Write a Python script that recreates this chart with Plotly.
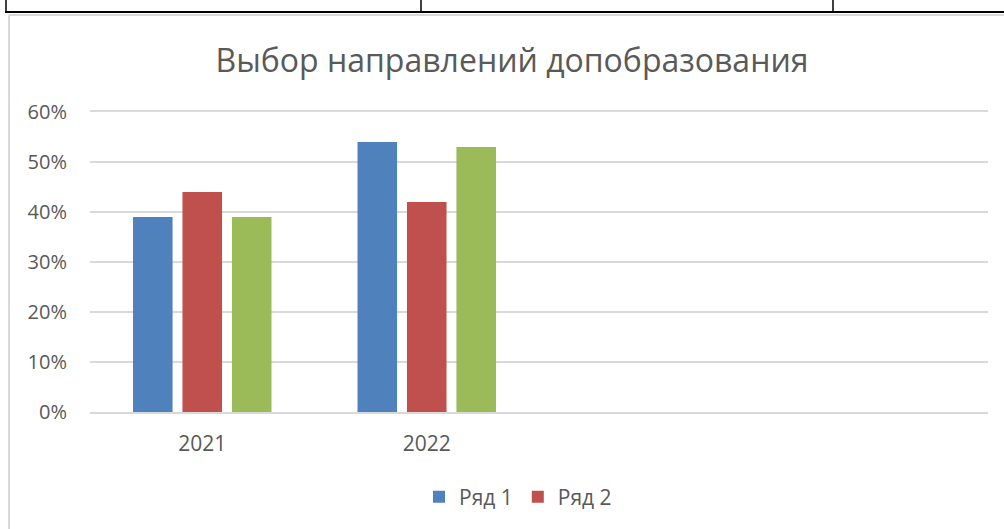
import plotly.graph_objects as go

categories = ["2021", "2022", "", ""]
series_names = ["Ряд 1", "Ряд 2", "Ряд 3"]
ryad1 = [0.39, 0.54, None, None]
ryad2 = [0.44, 0.42, None, None]
ryad3 = [0.39, 0.53, None, None]
colors = ["#4F81BD", "#C0504D", "#9BBB59"]
show_in_legend = [True, True, False]
y_ticks = [0, 0.1, 0.2, 0.3, 0.4, 0.5, 0.6]
y_ticklabels = ["0%", "10%", "20%", "30%", "40%", "50%", "60%"]

W, H = 1004, 529
L, R, T, B = 90, 16, 112, 117
pw, ph = W - L - R, H - T - B

def px_x(x):
    return (x - L) / pw

def px_y(y):
    return (H - B - y) / ph

xs = list(range(len(categories)))
fig = go.Figure()
for name, vals, c, sl in zip(series_names, [ryad1, ryad2, ryad3], colors, show_in_legend):
    fig.add_trace(go.Bar(x=xs, y=vals, name=name, marker=dict(color=c, line=dict(width=0)),
                         showlegend=sl))

font_family = "Open Sans, Liberation Sans, sans-serif"
txt = "#595959"
grid = "#D9D9D9"

shapes = []
# table lines at the top
shapes.append(dict(type="line", xref="paper", yref="paper", x0=px_x(5), x1=px_x(1004),
                   y0=px_y(12), y1=px_y(12), line=dict(color="black", width=2)))
for vx in [6, 421, 833]:
    shapes.append(dict(type="line", xref="paper", yref="paper", x0=px_x(vx), x1=px_x(vx),
                       y0=px_y(0), y1=px_y(12), line=dict(color="black", width=1.5)))
# chart frame
shapes.append(dict(type="line", xref="paper", yref="paper", x0=px_x(9), x1=px_x(1004),
                   y0=px_y(15), y1=px_y(15), line=dict(color=grid, width=2)))
shapes.append(dict(type="line", xref="paper", yref="paper", x0=px_x(9), x1=px_x(9),
                   y0=px_y(15), y1=px_y(529), line=dict(color=grid, width=2)))

fig.update_layout(
    width=W, height=H,
    margin=dict(l=L, r=R, t=T, b=B),
    paper_bgcolor="white", plot_bgcolor="white",
    barmode="group", bargap=0.339, bargroupgap=0.2,
    title=dict(text="Выбор направлений допобразования", x=512 / W, xref="container",
               xanchor="center", y=1 - 61 / H, yanchor="middle",
               font=dict(family=font_family, size=32, color=txt)),
    font=dict(family=font_family, color=txt),
    xaxis=dict(range=[-0.5, len(categories) - 0.5], tickvals=[0, 1],
               ticktext=categories[:2], showgrid=False, zeroline=False,
               showline=True, mirror=True, linecolor=grid, linewidth=2,
               ticks="", tickfont=dict(size=21, color=txt),
               ticklabelstandoff=12, fixedrange=True),
    yaxis=dict(range=[0, 0.6], tickvals=y_ticks, ticktext=y_ticklabels,
               showgrid=True, gridcolor=grid, gridwidth=2, zeroline=False,
               showline=False, ticks="", tickfont=dict(size=20, color=txt),
               ticklabelstandoff=22, fixedrange=True),
    legend=dict(orientation="h", x=px_x(518), xanchor="center", y=px_y(497),
                yanchor="middle", font=dict(size=21, color=txt), itemsizing="constant"),
    shapes=shapes,
    showlegend=True,
)
fig.write_html("out.html", config={"displayModeBar": False},
               post_script="document.body.style.margin='0';document.body.style.overflow='hidden';")
